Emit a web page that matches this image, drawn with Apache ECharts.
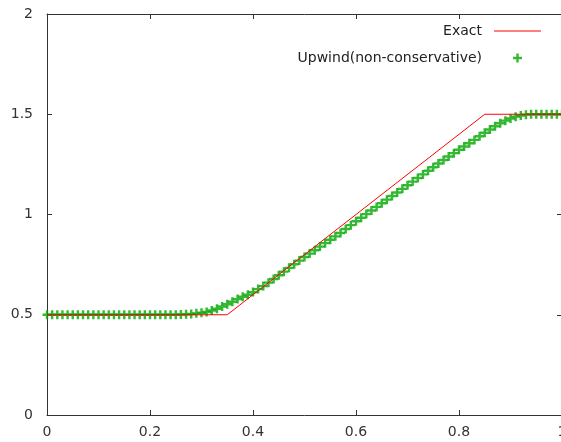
<!DOCTYPE html>
<html>
<head>
<meta charset="utf-8">
<script src="https://cdn.jsdelivr.net/npm/echarts@6/dist/echarts.min.js"></script>
<style>
html,body{margin:0;padding:0;background:#fff;}
#chart{width:561px;height:442px;}
</style>
</head>
<body>
<div id="chart"></div>
<script>
// Exact solution (corner points of the piecewise-linear profile)
var exactX = [0, 0.35, 0.85, 1];
var exactY = [0.5, 0.5, 1.5, 1.5];

// Upwind (non-conservative) numerical solution, x = 0, 0.01, ..., 1
var upwindX = [];
for (var i = 0; i <= 100; i++) upwindX.push(+(i / 100).toFixed(2));
var upwindY = [
  0.500,0.500,0.500,0.500,0.500,0.500,0.500,0.500,0.500,0.500,
  0.500,0.500,0.500,0.500,0.500,0.500,0.500,0.500,0.500,0.500,
  0.500,0.500,0.500,0.500,0.500,0.500,0.501,0.502,0.504,0.507,
  0.510,0.514,0.521,0.530,0.541,0.552,0.565,0.578,0.590,0.600,
  0.613,0.628,0.643,0.660,0.678,0.697,0.715,0.734,0.752,0.770,
  0.788,0.805,0.822,0.840,0.857,0.874,0.891,0.908,0.928,0.947,
  0.966,0.984,1.002,1.020,1.038,1.056,1.074,1.092,1.110,1.128,
  1.146,1.164,1.182,1.200,1.218,1.236,1.254,1.272,1.289,1.306,
  1.323,1.339,1.355,1.372,1.390,1.408,1.424,1.440,1.455,1.468,
  1.479,1.488,1.494,1.498,1.500,1.500,1.500,1.500,1.500,1.500,
  1.500
];

var xTicks = [0, 0.2, 0.4, 0.6, 0.8, 1];
var yTicks = [0, 0.5, 1, 1.5, 2];

var seriesNames = ['Exact', 'Upwind(non-conservative)'];

var FONT = 'DejaVu Sans';
var plusPath = 'path://M0,3.3H9V5.7H0Z M3.3,0H5.7V9H3.3Z';

var exactData = exactX.map(function (x, k) { return [x, exactY[k]]; });
var upwindData = upwindX.map(function (x, k) { return [x, upwindY[k]]; });

var chart = echarts.init(document.getElementById('chart'), null, {renderer: 'canvas'});

var axisLine = {show: true, onZero: false, lineStyle: {color: '#333', width: 1}};
var axisTick = {show: true, inside: true, length: 5, lineStyle: {color: '#333', width: 1}};

chart.setOption({
  animation: false,
  backgroundColor: '#fff',
  textStyle: {fontFamily: FONT},
  grid: {left: 47, right: -1, top: 14, bottom: 27, containLabel: false, outerBoundsMode: 'none'},
  legend: [
    {
      data: [{name: seriesNames[0], icon: 'path://M0,0H47V1H0Z'}],
      orient: 'vertical', align: 'right', padding: 0,
      right: 20, top: 24,
      itemWidth: 47, itemHeight: 14,
      textStyle: {fontFamily: FONT, fontSize: 14, color: '#222', padding: [0, 7, 0, 0]}
    },
    {
      data: [seriesNames[1]],
      orient: 'vertical', align: 'right', padding: 0,
      right: 39, top: 51,
      itemWidth: 9, itemHeight: 9,
      textStyle: {fontFamily: FONT, fontSize: 14, color: '#222', padding: [0, 26, 0, 0]}
    }
  ],
  xAxis: [
    {
      type: 'value', position: 'bottom', min: 0, max: 1, interval: 0.2,
      axisLine: axisLine, axisTick: axisTick, splitLine: {show: false},
      axisLabel: {fontFamily: FONT, fontSize: 14, color: '#333', margin: 10,
        formatter: function (v) { return String(+v.toFixed(1)); }}
    },
    {
      type: 'value', position: 'top', min: 0, max: 1, interval: 0.2,
      axisLine: axisLine, axisTick: axisTick, splitLine: {show: false},
      axisLabel: {show: false}
    }
  ],
  yAxis: [
    {
      type: 'value', position: 'left', min: 0, max: 2, interval: 0.5,
      axisLine: axisLine, axisTick: axisTick, splitLine: {show: false},
      axisLabel: {fontFamily: FONT, fontSize: 14, color: '#333', margin: 14,
        formatter: function (v) { return String(+v.toFixed(1)); }}
    },
    {
      type: 'value', position: 'right', min: 0, max: 2, interval: 0.5,
      axisLine: axisLine, axisTick: axisTick, splitLine: {show: false},
      axisLabel: {show: false}
    }
  ],
  series: [
    {
      name: seriesNames[0], type: 'line', data: exactData,
      symbol: 'none', showSymbol: false,
      lineStyle: {color: '#ff0000', width: 1},
      itemStyle: {color: '#ff0000'}
    },
    {
      name: seriesNames[1], type: 'scatter', data: upwindData,
      symbol: plusPath, symbolSize: 9, symbolKeepAspect: true,
      itemStyle: {color: '#00a800'}
    }
  ]
});
</script>
</body>
</html>
